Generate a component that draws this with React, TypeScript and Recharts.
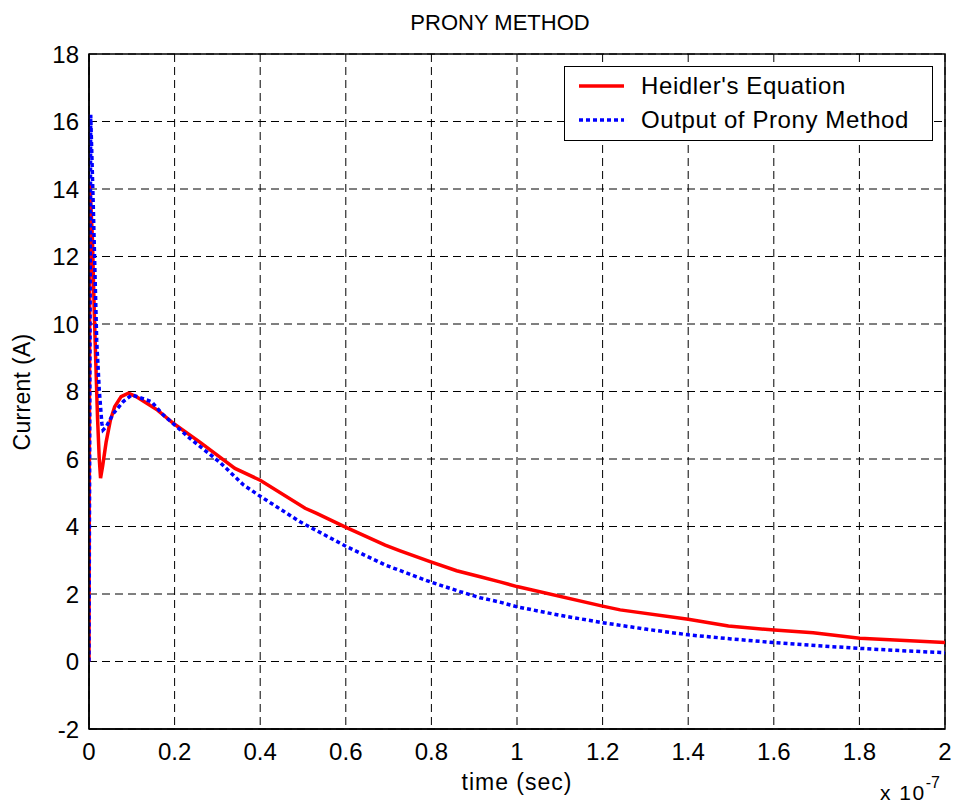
import { LineChart, Line, XAxis, YAxis, CartesianGrid, Legend, ReferenceArea } from "recharts";

const FONT = "'Liberation Sans', Arial, Helvetica, sans-serif";

// time in units of 1e-7 s
const hTime = [0, 0.002, 0.008, 0.012, 0.016, 0.02, 0.024, 0.027, 0.032, 0.04, 0.05, 0.06, 0.075, 0.092, 0.11, 0.135, 0.16, 0.2, 0.259, 0.341, 0.4, 0.505, 0.532, 0.598, 0.692, 0.727, 0.797, 0.859, 0.914, 0.96, 1.0, 1.2, 1.241, 1.4, 1.494, 1.601, 1.692, 1.801, 2.0];
const hCurrent = [0, 14.2, 12.5, 10.5, 8.8, 7.2, 6.0, 5.43, 5.8, 6.5, 7.15, 7.55, 7.85, 7.95, 7.85, 7.65, 7.45, 7.03, 6.5, 5.72, 5.37, 4.54, 4.39, 3.99, 3.45, 3.28, 2.96, 2.69, 2.51, 2.36, 2.22, 1.64, 1.53, 1.25, 1.05, 0.93, 0.85, 0.69, 0.56];

const pTime = [0, 0.004, 0.01, 0.018, 0.024, 0.03, 0.033, 0.04, 0.057, 0.08, 0.1, 0.146, 0.174, 0.236, 0.306, 0.361, 0.396, 0.493, 0.598, 0.692, 0.797, 0.867, 0.914, 0.96, 1.0, 1.1, 1.2, 1.3, 1.4, 1.5, 1.6, 1.7, 1.8, 1.9, 2.0];
const pCurrent = [0, 16.2, 13.5, 9.5, 8.04, 7.06, 6.86, 6.95, 7.35, 7.7, 7.9, 7.7, 7.3, 6.61, 5.9, 5.23, 4.93, 4.14, 3.43, 2.86, 2.36, 2.07, 1.89, 1.76, 1.62, 1.37, 1.15, 0.96, 0.79, 0.67, 0.56, 0.47, 0.39, 0.32, 0.26];

const xTicks = [0, 0.2, 0.4, 0.6, 0.8, 1, 1.2, 1.4, 1.6, 1.8, 2];
const yTicks = [-2, 0, 2, 4, 6, 8, 10, 12, 14, 16, 18];

const heidler = hTime.map((t, i) => ({ t, i: hCurrent[i] }));
const prony = pTime.map((t, i) => ({ t, i: pCurrent[i] }));

const tickStyle = { fill: "#000", fontSize: 24, fontFamily: FONT };

function LegendBox() {
  const row = (label: string, color: string, dash?: string) => (
    <div style={{ display: "flex", alignItems: "center", height: 34 }}>
      <svg width={76} height={34} style={{ flex: "none" }}>
        <line x1={14} x2={59} y1={17} y2={17} stroke={color} strokeWidth={3.5} strokeDasharray={dash} />
      </svg>
      <span style={{ fontSize: 24, letterSpacing: 0.6, lineHeight: "34px", whiteSpace: "nowrap" }}>{label}</span>
    </div>
  );
  return (
    <div
      style={{
        width: 367,
        height: 71,
        border: "1px solid #000",
        background: "#fff",
        fontFamily: FONT,
        color: "#000",
        paddingTop: 2,
        boxSizing: "content-box",
      }}
    >
      {row("Heidler's Equation", "#ff0000")}
      {row("Output of Prony Method", "#0000ff", "4 3")}
    </div>
  );
}

export default function App() {
  return (
    <div style={{ position: "absolute", left: 0, top: 0, width: 956, height: 807, background: "#fff", fontFamily: FONT }}>
      <LineChart width={956} height={807} margin={{ top: 54, right: 11, bottom: 0, left: 0 }}>
        <CartesianGrid stroke="#000" strokeDasharray="8 5" strokeWidth={1} />
        <XAxis
          type="number"
          dataKey="t"
          domain={[0, 2]}
          ticks={xTicks}
          allowDataOverflow
          height={78}
          tickSize={0}
          tickMargin={14}
          tick={tickStyle}
          axisLine={{ stroke: "#000", strokeWidth: 1.5 }}
          tickLine={false}
          label={{ value: "time (sec)", position: "insideBottom", offset: 17, fill: "#000", fontSize: 23, fontFamily: FONT, letterSpacing: 1 }}
        />
        <YAxis
          type="number"
          domain={[-2, 18]}
          ticks={yTicks}
          allowDataOverflow
          width={89}
          tickSize={0}
          tickMargin={10}
          tick={tickStyle}
          axisLine={{ stroke: "#000", strokeWidth: 1.5 }}
          tickLine={false}
        />
        <ReferenceArea x1={0} x2={2} y1={-2} y2={18} fill="none" stroke="#000" strokeWidth={1.5} />
        <Line
          data={heidler}
          dataKey="i"
          type="linear"
          stroke="#ff0000"
          strokeWidth={3.5}
          dot={false}
          isAnimationActive={false}
        />
        <Line
          data={prony}
          dataKey="i"
          type="linear"
          stroke="#0000ff"
          strokeWidth={3.5}
          strokeDasharray="4 3"
          dot={false}
          isAnimationActive={false}
        />
        <Legend
          layout="vertical"
          align="center"
          verticalAlign="middle"
          wrapperStyle={{ left: 564, top: 66, width: 369, height: 73 }}
          content={() => <LegendBox />}
        />
      </LineChart>
      <div style={{ position: "absolute", left: 300, width: 400, top: 11, textAlign: "center", fontSize: 22, lineHeight: "24px" }}>
        PRONY METHOD
      </div>
      <div
        style={{
          position: "absolute",
          left: 22 - 100,
          top: 392 - 12,
          width: 200,
          height: 24,
          lineHeight: "24px",
          textAlign: "center",
          fontSize: 23,
          letterSpacing: 0.3,
          transform: "rotate(-90deg)",
        }}
      >
        Current (A)
      </div>
      <div style={{ position: "absolute", left: 880, top: 781, fontSize: 21, letterSpacing: 1.5, lineHeight: "24px", whiteSpace: "nowrap" }}>
        x 10<span style={{ fontSize: 16, letterSpacing: 0, position: "relative", top: -12 }}>-7</span>
      </div>
    </div>
  );
}
